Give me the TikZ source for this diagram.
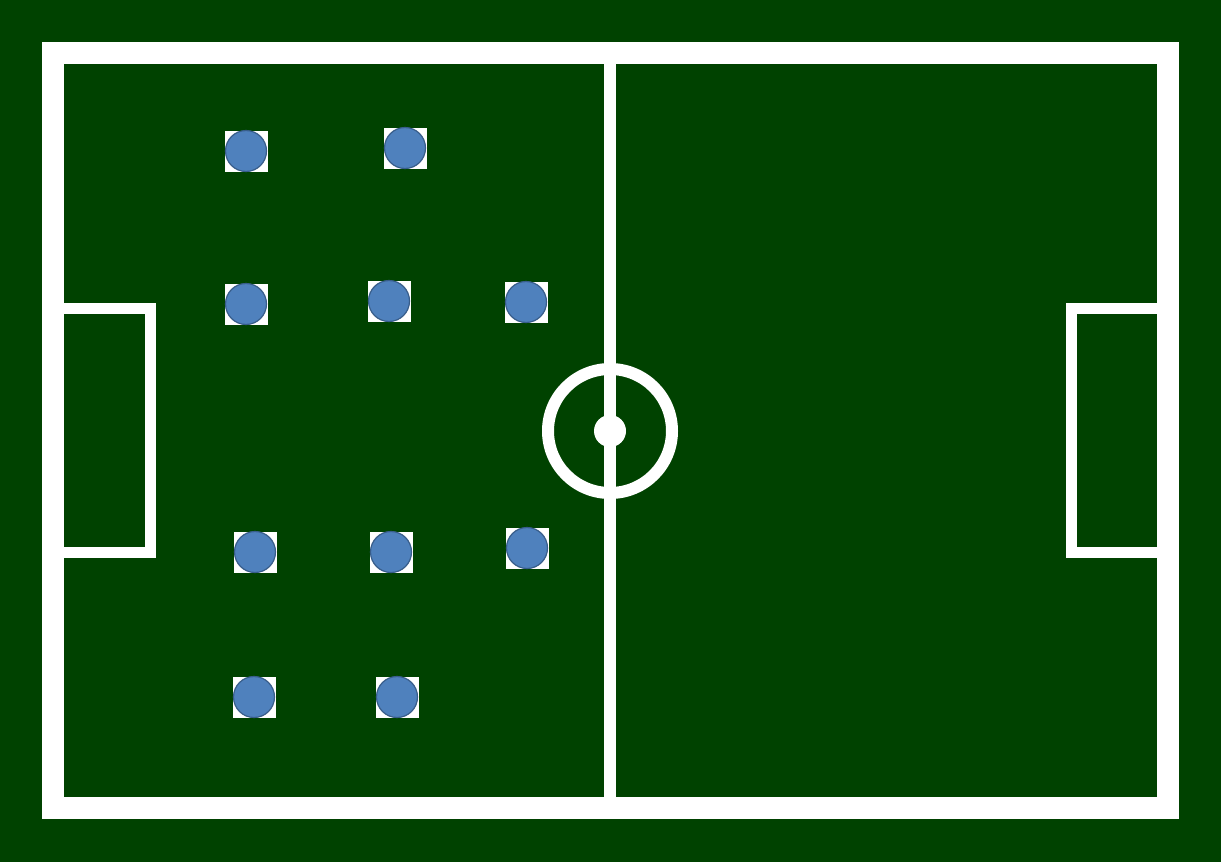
\documentclass[tikz,border=0pt]{standalone}
\definecolor{pitch}{RGB}{0,66,0}
\definecolor{playerfill}{RGB}{79,129,189}
\definecolor{playerline}{RGB}{56,93,138}
\tikzset{
  line/.style={draw=white, line width=#1},
  playerbg/.style={fill=white, draw=none, minimum width=43pt, minimum height=41pt, inner sep=0pt},
  player/.style={circle, fill=playerfill, draw=playerline, line width=1.2pt, minimum size=41pt, inner sep=0pt},
}
\begin{document}
\begin{tikzpicture}[x=1pt,y=-1pt]
\useasboundingbox (0,0) rectangle (1221,862);
\fill[pitch] (0,0) rectangle (1221,862);
% outer boundary
\draw[line=22pt] (53,53) rectangle (1168,808);
% halfway line
\draw[line=12pt] (610,64) -- (610,797);
% centre circle and spot
\draw[line=12pt] (610,431) circle[radius=62];
\fill[white] (610,431) circle[radius=16];
% goal boxes
\draw[line=11pt] (64,308.5) -- (150,308.5) -- (150,552.5) -- (64,552.5);
\draw[line=11pt] (1157,308.5) -- (1071,308.5) -- (1071,552.5) -- (1157,552.5);
% players
\foreach \n/\x/\y in {p1/246/151, p2/405/148, p3/246/304, p4/389/301, p5/526/302,
                      p6/255/552, p7/391/552, p8/527/548, p9/254/697, p10/397/697}{
  \node[playerbg] (\n bg) at (\x,\y) {};
  \node[player] (\n) at (\x,\y) {};
}
\end{tikzpicture}
\end{document}
